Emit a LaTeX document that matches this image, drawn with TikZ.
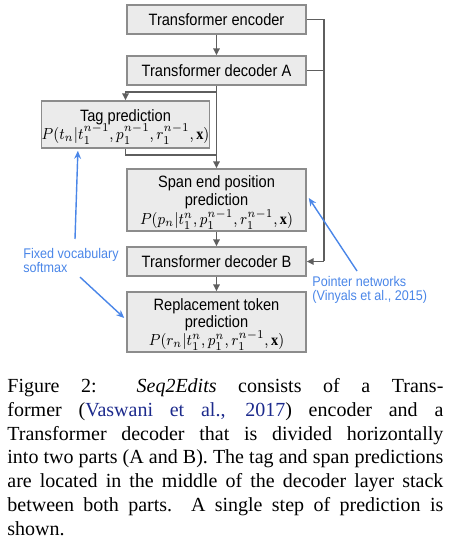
\RequirePackage{fix-cm}
\documentclass[tikz,border=0pt]{standalone}
\usepackage{amsmath, amssymb}
\usepackage{graphicx}
\usepackage{fontspec}
\setmainfont{Liberation Serif}
\setsansfont{Liberation Sans}
\newfontfamily\blockfont[FakeStretch=0.89]{Liberation Sans}
\newfontfamily\notefont[FakeStretch=0.9]{Liberation Sans}
\usepackage{xcolor}
\usetikzlibrary{arrows.meta, positioning, calc}

\definecolor{boxfill}{HTML}{EBEBEB}
\definecolor{boxline}{HTML}{8C8C8C}
\definecolor{wiregray}{HTML}{5E5E5E}
\definecolor{noteblue}{HTML}{4A86E8}
\definecolor{citeblue}{HTML}{1C2A8C}

% squeezed probability line inside a block
\newcommand{\probline}[1]{\smash{\scalebox{0.89}[1]{\fontsize{8}{9}\selectfont$#1$}}}

\tikzset{
	block/.style={draw=boxline, fill=boxfill, line width=0.8pt, align=center,
		inner sep=0pt, minimum width=89.5pt, minimum height=14.5pt,
		font=\blockfont\fontsize{8.2}{9.2}\selectfont},
	wire/.style={draw=wiregray, line width=0.8pt},
	wirearrow/.style={wire, -{Triangle[length=3.4pt, width=3.2pt]}},
	note/.style={text=noteblue, align=left, inner sep=0pt,
		font=\notefont\fontsize{7}{7}\selectfont},
	notearrow/.style={draw=noteblue, line width=0.7pt, -{Stealth[length=4pt, width=3.4pt]}}
}

\begin{document}
\begin{tikzpicture}[x=0.5pt, y=-0.5pt]
		
		\useasboundingbox (0,0) rectangle (453,544);
		
		% Blocks
		\node[block] (enc) at (216.5,19.5) {Transformer encoder};
		\node[block] (decA) at (216.5,70.5) {Transformer decoder A};
		\node[block, minimum width=82.5pt, minimum height=23.5pt] (tag) at (125.5,124.5)
		{Tag prediction\\[-0.6pt] \probline{P(t_n|t_1^{n-1},p_1^{n-1},r_1^{n-1},\mathbf{x})}};
		\node[block, minimum height=31pt] (span) at (216.5,200)
		{Span end position\\prediction\\ \probline{P(p_n|t_1^{n},p_1^{n-1},r_1^{n-1},\mathbf{x})}};
		\node[block] (decB) at (216.5,261.5) {Transformer decoder B};
		\node[block, minimum height=30pt] (repl) at (216.5,322)
		{Replacement token\\[-0.4pt]prediction\\[-0.4pt] \probline{P(r_n|t_1^{n},p_1^{n},r_1^{n-1},\mathbf{x})}};
		
		% Helper points
		\coordinate (splitA) at ($(decA.south)+(0,6)$);
		\coordinate (joinT) at ($(tag.south -| decA.south)+(0,6)$);
		\coordinate (busB) at ($(decB.east)+(17,0)$);
		
		% Main stack
		\draw[wirearrow] (enc) -- (decA);
		\draw[wirearrow] (decA) -- (span);
		\draw[wirearrow] (splitA) -| (tag.north);
		\draw[wire] (tag.south) |- (joinT);
		\draw[wirearrow] (span) -- (decB);
		\draw[wirearrow] (decB) -- (repl);
		
		% Encoder and decoder A to decoder B
		\draw[wire] (enc.east) -| (busB);
		\draw[wire] (decA.east) -- (decA.east -| busB);
		\draw[wirearrow] (busB) -- (decB.east);
		
		% Annotations
		\node[note, anchor=north west] (softnote) at (23,248) {Fixed vocabulary\\softmax};
		\node[note, anchor=north west] (ptrnote) at (312,276) {Pointer networks\\(Vinyals et al., 2015)};
		\coordinate (softtop) at ($(softnote.north west)+(52,-9)$);
		\coordinate (softlow) at ($(softnote.south west)+(57,4)$);
		\coordinate (ptrtop) at ($(ptrnote.north west)+(45,-5)$);
		\draw[notearrow] (softtop) -- ($(tag.south west)+(37,2)$);
		\draw[notearrow] (softlow) -- ($(repl.west)+(-2,-4)$);
		\draw[notearrow] (ptrtop) -- ($(span.east)+(2,-2)$);
		
		% Caption
		\node[anchor=north west, inner sep=0pt, text width=218pt, align=justify,
		font=\fontsize{10}{11.9}\selectfont] (caption) at (7,378)
		{Figure 2: \emph{Seq2Edits} consists of a Trans-\linebreak
			former ({\color{citeblue}Vaswani et al.,} {\color{citeblue}2017}) encoder and a\linebreak
			Transformer decoder that is divided horizontally\linebreak
			into two parts (A and B). The tag and span predictions\linebreak
			are located in the middle of the decoder layer stack\linebreak
			between both parts.\ \ A single step of prediction is\linebreak
			shown.};
		
	\end{tikzpicture}
\end{document}
